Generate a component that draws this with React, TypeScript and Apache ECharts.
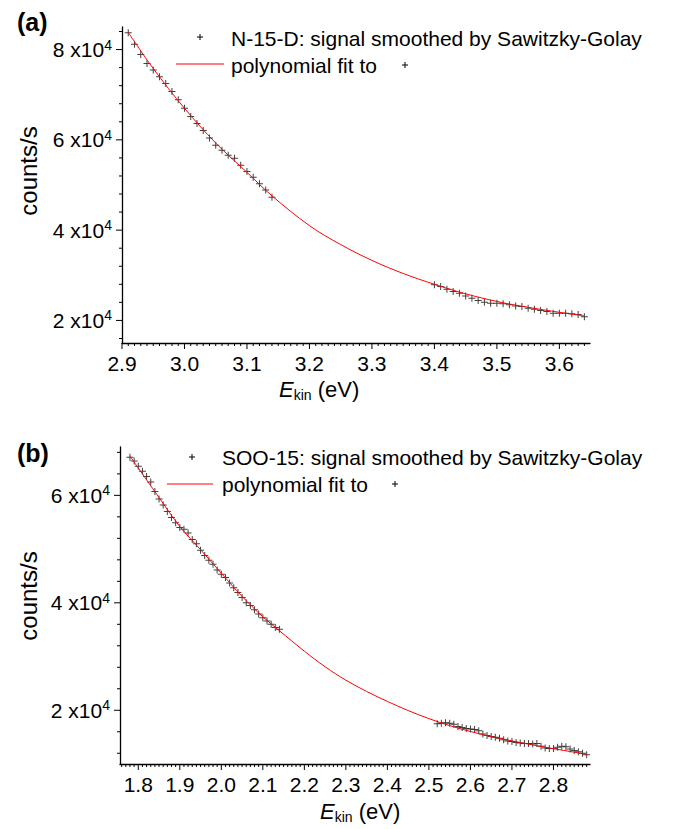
import React, { useEffect, useRef } from 'react';
import * as echarts from 'echarts';

const FONT = '"Liberation Sans", Arial, Helvetica, sans-serif';

// ---------- Panel (a): N-15-D ----------
const aPointX = [
  2.91, 2.92, 2.93, 2.94, 2.95, 2.96, 2.97, 2.98, 2.99, 3.0, 3.01, 3.02, 3.03, 3.04, 3.05, 3.06, 3.07, 3.08, 3.09, 3.1, 3.11, 3.12, 3.13, 3.14,
  3.4, 3.41, 3.42, 3.43, 3.44, 3.45, 3.46, 3.47, 3.48, 3.49, 3.5, 3.51, 3.52, 3.53, 3.54, 3.55, 3.56, 3.57, 3.58, 3.59, 3.6, 3.61, 3.62, 3.63, 3.64,
];
const aPointY = [
  83700, 81200, 78900, 76900, 75500, 74000, 72500, 70700, 68900, 67000, 65200, 63600, 62100, 60400, 58800, 57700, 56600, 55900, 54400, 53000, 51700, 50300, 48900, 47300,
  27900, 27500, 26900, 26400, 26000, 25400, 24900, 24400, 24000, 23800, 23800, 23700, 23500, 23200, 23100, 22700, 22500, 22200, 22000, 21600, 21600, 21600, 21500, 21300, 20800,
];
const aFitX = [2.91, 2.95, 3.0, 3.05, 3.1, 3.14, 3.2, 3.25, 3.3, 3.35, 3.4, 3.45, 3.5, 3.55, 3.6, 3.64];
const aFitY = [83800, 75800, 67000, 59300, 52800, 47600, 41000, 36800, 33300, 30400, 28000, 25900, 24200, 22900, 21800, 21000];
const aXTicks = [2.9, 3.0, 3.1, 3.2, 3.3, 3.4, 3.5, 3.6];
const aYTicks = [20000, 40000, 60000, 80000];

// ---------- Panel (b): SOO-15 ----------
const bPointX = [
  1.78, 1.79, 1.8, 1.81, 1.82, 1.83, 1.84, 1.85, 1.86, 1.87, 1.88, 1.89, 1.9, 1.91, 1.92, 1.93, 1.94, 1.95, 1.96, 1.97, 1.98, 1.99,
  2.0, 2.01, 2.02, 2.03, 2.04, 2.05, 2.06, 2.07, 2.08, 2.09, 2.1, 2.11, 2.12, 2.13, 2.14,
  2.52, 2.53, 2.54, 2.55, 2.56, 2.57, 2.58, 2.59, 2.6, 2.61, 2.62, 2.63, 2.64, 2.65, 2.66, 2.67, 2.68, 2.69,
  2.7, 2.71, 2.72, 2.73, 2.74, 2.75, 2.76, 2.77, 2.78, 2.79, 2.8, 2.81, 2.82, 2.83, 2.84, 2.85, 2.86, 2.87, 2.88,
];
const bPointY = [
  67100, 66400, 65400, 64500, 63500, 62500, 60700, 59300, 58200, 57000, 55900, 54900, 54000, 53700, 53000, 51800, 51000, 49800, 48800, 47900, 47200, 46100,
  45300, 44700, 43700, 42800, 41900, 41000, 40000, 39500, 38700, 37900, 37200, 36600, 36000, 35400, 35100,
  17500, 17600, 17700, 17600, 17400, 17000, 16800, 16600, 16500, 16400, 16200, 15600, 15300, 15100, 15000, 14800, 14500, 14300,
  14200, 14000, 13900, 13800, 13800, 13700, 13800, 13300, 13000, 12900, 12900, 13100, 13300, 13200, 12800, 12500, 12300, 12000, 11700,
];
const bFitX = [1.78, 1.85, 1.9, 1.95, 2.0, 2.05, 2.1, 2.14, 2.2, 2.25, 2.3, 2.35, 2.4, 2.45, 2.5, 2.55, 2.6, 2.65, 2.7, 2.75, 2.8, 2.85, 2.88];
const bFitY = [67300, 59600, 54200, 49900, 45500, 41200, 37400, 34800, 31000, 28100, 25600, 23500, 21650, 19950, 18450, 17150, 16050, 15100, 14300, 13550, 12850, 12200, 11800];
const bXTicks = [1.8, 1.9, 2.0, 2.1, 2.2, 2.3, 2.4, 2.5, 2.6, 2.7, 2.8];
const bYTicks = [20000, 40000, 60000];

const legendA = ['N-15-D: signal smoothed by Sawitzky-Golay', 'polynomial fit to'];
const legendB = ['SOO-15: signal smoothed by Sawitzky-Golay', 'polynomial fit to'];

const PLUS = 'path://M3,0H4V3H7V4H4V7H3V4H0V3H3Z';
const MAJOR_LEN = 6;
const MINOR_LEN = 3;

function xTickList(min: number, max: number, majors: number[]) {
  const out: number[][] = [];
  for (let i = Math.ceil(min * 100 - 1e-6); i <= Math.floor(max * 100 + 1e-6); i++) {
    const v = i / 100;
    const isMajor = majors.some((m) => Math.abs(m - v) < 1e-6);
    out.push([v, isMajor ? MAJOR_LEN : MINOR_LEN]);
  }
  return out;
}
function yTickList(min: number, max: number, majors: number[]) {
  const out: number[][] = [];
  for (let v = Math.ceil(min / 4000) * 4000; v <= max; v += 4000) {
    out.push([v, majors.indexOf(v) >= 0 ? MAJOR_LEN : MINOR_LEN]);
  }
  return out;
}

function xAxis(gridIndex: number, min: number, max: number, ticks: number[]) {
  return {
    type: 'value', gridIndex, min, max, position: 'bottom',
    axisLine: { show: true, onZero: false, lineStyle: { color: '#000', width: 1.3 } },
    axisTick: { show: false },
    axisLabel: {
      show: true, customValues: ticks, margin: 10, color: '#000', fontSize: 21, fontFamily: FONT,
      formatter: (v: number) => v.toFixed(1),
    },
    splitLine: { show: false },
  };
}

function yAxis(gridIndex: number, min: number, max: number, ticks: number[]) {
  return {
    type: 'value', gridIndex, min, max, position: 'left',
    axisLine: { show: true, onZero: false, lineStyle: { color: '#000', width: 1.3 } },
    axisTick: { show: false },
    axisLabel: {
      show: true, customValues: ticks, margin: 10, color: '#000',
      formatter: (v: number) => `{n|${Math.round(v / 10000)} x10}{s|4}`,
      rich: {
        n: { fontSize: 21, fontFamily: FONT, color: '#000', lineHeight: 24 },
        s: { fontSize: 14, fontFamily: FONT, color: '#000', lineHeight: 14, verticalAlign: 'top' },
      },
    },
    splitLine: { show: false },
  };
}

// tick marks drawn through the axes' own scales (api.coord)
function xTickSeries(axisIndex: number, yMin: number, data: number[][]) {
  return {
    type: 'custom', xAxisIndex: axisIndex, yAxisIndex: axisIndex, clip: false, silent: true, z: 5,
    data,
    renderItem: (_p: any, api: any) => {
      const pt = api.coord([api.value(0), yMin]);
      return {
        type: 'line',
        shape: { x1: pt[0], y1: pt[1], x2: pt[0], y2: pt[1] + api.value(1) },
        style: { stroke: '#000', lineWidth: 1 },
      };
    },
  };
}
function yTickSeries(axisIndex: number, xMin: number, data: number[][]) {
  return {
    type: 'custom', xAxisIndex: axisIndex, yAxisIndex: axisIndex, clip: false, silent: true, z: 5,
    data: data.map((d) => [xMin, d[0], d[1]]),
    encode: { x: 0, y: 1 },
    renderItem: (_p: any, api: any) => {
      const pt = api.coord([api.value(0), api.value(1)]);
      return {
        type: 'line',
        shape: { x1: pt[0] - api.value(2), y1: pt[1], x2: pt[0], y2: pt[1] },
        style: { stroke: '#000', lineWidth: 1 },
      };
    },
  };
}

function plus(cx: number, cy: number, s: number) {
  return {
    type: 'group', silent: true,
    children: [
      { type: 'line', shape: { x1: cx - s, y1: cy, x2: cx + s, y2: cy }, style: { stroke: '#000', lineWidth: 1 } },
      { type: 'line', shape: { x1: cx, y1: cy - s, x2: cx, y2: cy + s }, style: { stroke: '#000', lineWidth: 1 } },
    ],
  };
}

function text(x: number, y: number, t: string, extra: any = {}) {
  return {
    type: 'text', x, y, silent: true,
    style: {
      text: t, fill: '#000', fontSize: 21, fontFamily: FONT,
      align: 'left', verticalAlign: 'middle', textAlign: 'left', textVerticalAlign: 'middle',
      ...extra,
    },
  };
}

function ekin(x: number, y: number) {
  return text(x, y, '{e|E}{k|kin}{u| (eV)}', {
    rich: {
      e: { fontSize: 22, fontStyle: 'italic', fontFamily: FONT, fill: '#000', color: '#000', lineHeight: 26 },
      k: { fontSize: 14, fontFamily: FONT, fill: '#000', color: '#000', lineHeight: 8, verticalAlign: 'bottom' },
      u: { fontSize: 22, fontFamily: FONT, fill: '#000', color: '#000', lineHeight: 26 },
    },
  });
}

function counts(cx: number, cy: number) {
  return {
    type: 'text', x: cx, y: cy, rotation: Math.PI / 2, silent: true,
    style: {
      text: 'counts/s', fill: '#000', fontSize: 24, fontFamily: FONT,
      align: 'center', verticalAlign: 'middle', textAlign: 'center', textVerticalAlign: 'middle',
    },
  };
}

export default function App() {
  const ref = useRef<HTMLDivElement>(null);
  useEffect(() => {
    if (!ref.current) return;
    const chart = echarts.init(ref.current, undefined, { renderer: 'svg' });
    const aX = { min: 2.9, max: 3.649 };
    const aY = { min: 15000, max: 85000 };
    const bX = { min: 1.756, max: 2.888 };
    const bY = { min: 10000, max: 69000 };
    const option: any = {
      animation: false,
      backgroundColor: '#fff',
      grid: [
        { left: 122, top: 27, width: 468, height: 316, containLabel: false, outerBoundsMode: 'none' },
        { left: 120, top: 447, width: 470, height: 317, containLabel: false, outerBoundsMode: 'none' },
      ],
      xAxis: [xAxis(0, aX.min, aX.max, aXTicks), xAxis(1, bX.min, bX.max, bXTicks)],
      yAxis: [yAxis(0, aY.min, aY.max, aYTicks), yAxis(1, bY.min, bY.max, bYTicks)],
      series: [
        {
          type: 'scatter', xAxisIndex: 0, yAxisIndex: 0, symbol: PLUS, symbolSize: 7,
          itemStyle: { color: '#111' }, data: aPointX.map((x, i) => [x, aPointY[i]]),
        },
        {
          type: 'line', xAxisIndex: 0, yAxisIndex: 0, showSymbol: false, smooth: 0.35,
          lineStyle: { color: '#ff0000', width: 1 }, data: aFitX.map((x, i) => [x, aFitY[i]]),
        },
        {
          type: 'scatter', xAxisIndex: 1, yAxisIndex: 1, symbol: PLUS, symbolSize: 7,
          itemStyle: { color: '#111' }, data: bPointX.map((x, i) => [x, bPointY[i]]),
        },
        {
          type: 'line', xAxisIndex: 1, yAxisIndex: 1, showSymbol: false, smooth: 0.35,
          lineStyle: { color: '#ff0000', width: 1 }, data: bFitX.map((x, i) => [x, bFitY[i]]),
        },
        xTickSeries(0, aY.min, xTickList(aX.min, aX.max, aXTicks)),
        yTickSeries(0, aX.min, yTickList(aY.min, aY.max, aYTicks)),
        xTickSeries(1, bY.min, xTickList(bX.min, bX.max, bXTicks)),
        yTickSeries(1, bX.min, yTickList(bY.min, bY.max, bYTicks)),
      ],
      graphic: [
        text(17, 22, '(a)', { fontSize: 25, fontWeight: 'bold' }),
        text(17, 453, '(b)', { fontSize: 25, fontWeight: 'bold' }),
        // legend (a)
        plus(200, 37, 3),
        text(231, 38, legendA[0]),
        { type: 'line', silent: true, shape: { x1: 176, y1: 64, x2: 224, y2: 64 }, style: { stroke: '#ff0000', lineWidth: 1 } },
        text(231, 65, legendA[1]),
        plus(405, 65, 3),
        // legend (b)
        plus(192, 457, 3),
        text(222, 457, legendB[0]),
        { type: 'line', silent: true, shape: { x1: 167, y1: 484, x2: 213, y2: 484 }, style: { stroke: '#ff0000', lineWidth: 1 } },
        text(222, 484, legendB[1]),
        plus(395, 484, 3),
        // axis titles
        counts(28, 171),
        counts(28, 596),
        ekin(279, 389),
        ekin(320, 811),
      ],
    };
    chart.setOption(option);
    return () => chart.dispose();
  }, []);
  return (
    <div
      ref={ref}
      style={{ position: 'absolute', left: 0, top: 0, width: 685, height: 829, background: '#fff' }}
    />
  );
}
